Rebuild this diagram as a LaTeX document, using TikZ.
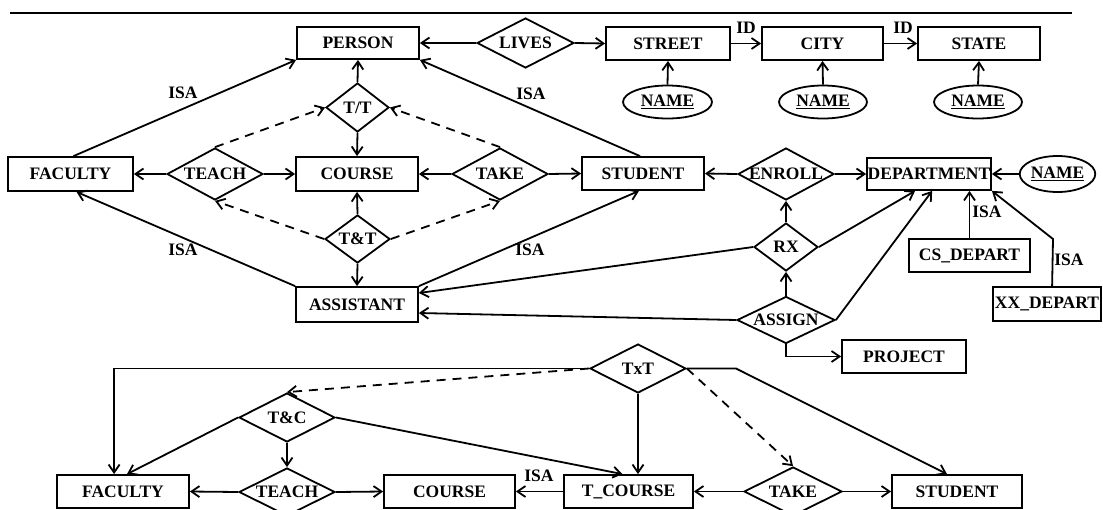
\documentclass[tikz,border=0pt]{standalone}
\usepackage{fontspec}
\setmainfont{Liberation Serif}
\usetikzlibrary{shapes.geometric,arrows.meta,calc}
\newcommand{\fsz}{\fontsize{17.5}{20}\selectfont\bfseries}
\tikzset{
  ent/.style={draw, rectangle, line width=1.8pt, inner sep=0pt, font=\fsz},
  rel/.style={draw, diamond, aspect=2, line width=1.8pt, inner sep=-3pt, font=\fsz},
  attr/.style={draw, ellipse, line width=1.8pt, inner sep=0pt, font=\fsz},
  arr/.style={line width=1.8pt, -{Straight Barb[length=8pt,width=11pt]}},
  darr/.style={arr, dash pattern=on 9pt off 7pt},
  lab/.style={font=\fsz, inner sep=0pt}
}
\begin{document}
\begin{tikzpicture}[x=1pt,y=-1pt]
\fill[white] (0,0) rectangle (1103,509);
\useasboundingbox (0,0) rectangle (1103,509);
\coordinate (tl) at (10,12.5);
\coordinate (tr) at (1072,12.5);
\draw[line width=2pt] (tl) -- (tr);

% ---- top row
\node[ent, minimum width=122pt, minimum height=32pt] (person) at (358,43) {PERSON};
\node[rel, minimum width=97pt, minimum height=50pt] (lives) at (525.5,43) {LIVES};
\node[ent, minimum width=124pt, minimum height=33pt] (street) at (668,43.5) {STREET};
\node[ent, minimum width=121pt, minimum height=33pt] (city) at (822.5,43.5) {CITY};
\node[ent, minimum width=122pt, minimum height=33pt] (state) at (979,43.5) {STATE};
\node[attr, minimum width=89pt, minimum height=33pt] (nm1) at (667.5,102) {\underline{NAME}};
\node[attr, minimum width=88pt, minimum height=33pt] (nm2) at (823,102) {\underline{NAME}};
\node[attr, minimum width=88pt, minimum height=33pt] (nm3) at (978,102) {\underline{NAME}};

% ---- second row
\node[ent, minimum width=125pt, minimum height=34pt] (fac1) at (70.5,174) {FACULTY};
\node[rel, minimum width=96pt, minimum height=52pt] (teach1) at (215,174) {TEACH};
\node[ent, minimum width=122pt, minimum height=34pt] (course1) at (357,174) {COURSE};
\node[rel, minimum width=96pt, minimum height=52pt] (take1) at (500,174) {TAKE};
\node[ent, minimum width=122pt, minimum height=33pt] (stud1) at (643,173.5) {STUDENT};
\node[rel, minimum width=96pt, minimum height=52pt] (enroll) at (786,174) {ENROLL};
\node[ent, minimum width=124pt, minimum height=32pt] (dept) at (929,174) {DEPARTMENT};
\node[attr, minimum width=72pt, minimum height=36pt] (nm4) at (1057.5,174) {\underline{NAME}};

\node[rel, minimum width=63pt, minimum height=49pt] (tt1) at (357.5,107.5) {T/T};
\node[rel, minimum width=65pt, minimum height=48pt] (tandt) at (357.5,239) {T\&T};
\node[ent, minimum width=122pt, minimum height=35pt] (assist) at (357,304.5) {ASSISTANT};
\node[rel, minimum width=64pt, minimum height=48pt] (rx) at (786,247) {RX};
\node[rel, minimum width=98pt, minimum height=47pt] (assign) at (786,320) {ASSIGN};
\node[ent, minimum width=121pt, minimum height=33pt] (csd) at (969.5,255.5) {CS\_DEPART};
\node[ent, minimum width=108pt, minimum height=34pt] (xxd) at (1047,304) {XX\_DEPART};
\node[ent, minimum width=124pt, minimum height=33pt] (project) at (904,356.5) {PROJECT};

% ---- bottom
\node[rel, minimum width=96pt, minimum height=49pt] (txt) at (638,368.5) {TxT};
\node[rel, minimum width=96pt, minimum height=49pt] (tc) at (287,417.5) {T\&C};
\node[ent, minimum width=132pt, minimum height=33pt] (fac2) at (123,491.5) {FACULTY};
\node[rel, minimum width=96pt, minimum height=48pt] (teach2) at (287,492) {TEACH};
\node[ent, minimum width=131pt, minimum height=33pt] (course2) at (449.5,491.5) {COURSE};
\node[ent, minimum width=129pt, minimum height=33pt] (tcourse) at (628.5,491.5) {T\_COURSE};
\node[rel, minimum width=98pt, minimum height=49pt] (take2) at (793,491.5) {TAKE};
\node[ent, minimum width=130pt, minimum height=33pt] (stud2) at (957,491.5) {STUDENT};

% ---- labels
\node[lab] (isa1) at (183,93) {ISA};
\node[lab] (isa2) at (531,94) {ISA};
\node[lab] (isa3) at (183,250) {ISA};
\node[lab] (isa4) at (530,250) {ISA};
\node[lab] (isa5) at (987,212) {ISA};
\node[lab] (isa6) at (1069,260) {ISA};
\node[lab] (isa7) at (539,476) {ISA};
\node[lab] (id1) at (746,28) {ID};
\node[lab] (id2) at (903,28) {ID};

% ---- top edges
\draw[arr] (lives.west) -- (person.east);
\draw[arr] (lives.east) -- (street.west);
\draw[arr] (street.east) -- (city.west);
\draw[arr] (city.east) -- (state.west);
\draw[arr] (nm1.north) -- (street.south);
\draw[arr] (nm2.north) -- (city.south);
\draw[arr] (nm3.north) -- (state.south);

% ---- second row edges
\draw[arr] (tt1.north) -- (person.south);
\draw[arr] (tt1.south) -- (course1.north);
\draw[arr] ($(fac1.north)+(3,0)$) -- (person.south west);
\draw[arr] ($(stud1.north)+(-3,0)$) -- (person.south east);
\draw[arr] (assist.north west) -- ($(fac1.south)+(6,0)$);
\draw[arr] (assist.north east) -- ($(stud1.south)+(-4,0)$);
\draw[arr] (teach1.west) -- (fac1.east);
\draw[arr] (teach1.east) -- (course1.west);
\draw[arr] (take1.west) -- (course1.east);
\draw[arr] (take1.east) -- (stud1.west);
\draw[darr] (teach1.north) -- (tt1.west);
\draw[darr] (take1.north) -- (tt1.east);
\draw[arr] (tandt.north) -- (course1.south);
\draw[arr] (tandt.south) -- (assist.north);
\draw[darr] (tandt.west) -- (teach1.south);
\draw[darr] (tandt.east) -- (take1.south);
\draw[arr] (enroll.west) -- (stud1.east);
\draw[arr] (enroll.east) -- (dept.west);
\draw[arr] (nm4.west) -- (dept.east);
\draw[arr] (rx.north) -- (enroll.south);
\draw[arr] (assign.north) -- (rx.south);
\draw[arr] (rx.east) -- ($(dept.south west)+(49,0)$);
\draw[arr] (assign.east) -- ($(dept.south west)+(66,0)$);
\draw[arr] (rx.west) -- ($(assist.east)+(0,-11.5)$);
\draw[arr] (assign.west) -- ($(assist.east)+(0,8.5)$);
\draw[arr] (csd.north) -- (csd.north |- dept.south);
\coordinate (xxb) at (1053,239);
\draw[arr] ($(xxd.north west)+(60,0)$) -- (xxb) -- (dept.south east);
\draw[arr] (assign.south) |- (project.west);

% ---- bottom edges
\draw[arr] (txt.west) -| ($(fac2.north west)+(58,0)$);
\draw[darr] (txt.west) -- (tc.north);
\draw[arr] (txt.south) -- (txt.south |- tcourse.north);
\coordinate (txb) at (736,368.5);
\draw[arr] (txt.east) -- (txb) -- ($(stud2.north)+(-10,0)$);
\draw[darr] (txt.east) -- (take2.north);
\draw[arr] (tc.west) -- ($(fac2.north)+(4,0)$);
\draw[arr] (tc.south) -- (teach2.north);
\draw[arr] (tc.east) -- ($(tcourse.north)+(-6,0)$);
\draw[arr] (teach2.west) -- (fac2.east);
\draw[arr] (teach2.east) -- (course2.west);
\draw[arr] (tcourse.west) -- (course2.east);
\draw[arr] (take2.west) -- (tcourse.east);
\draw[arr] (take2.east) -- (stud2.west);
\end{tikzpicture}
\end{document}
